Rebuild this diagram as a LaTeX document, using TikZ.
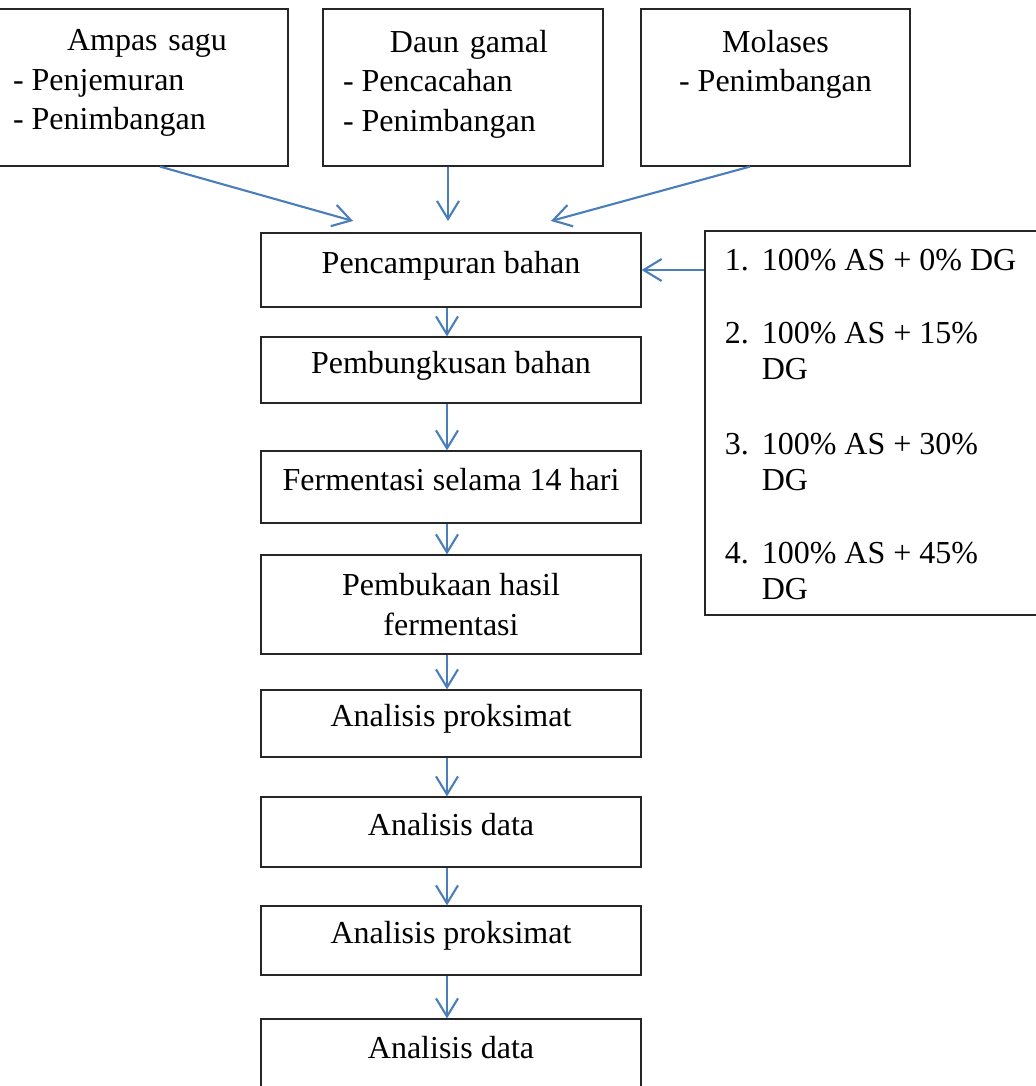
\documentclass[tikz,border=0pt]{standalone}
\usepackage{fontspec}
\setmainfont{Liberation Serif}
\usetikzlibrary{arrows.meta}

\definecolor{panahbiru}{RGB}{74,126,187}
\tikzset{
  bahanbox/.style={draw=black!85, line width=0.6pt, rectangle, minimum height=78.5pt, inner sep=0pt},
  bahanteks/.style={anchor=north, inner sep=0pt, font=\fontsize{16}{19.75}\selectfont},
  prosesbox/.style={draw=black!85, line width=0.6pt, rectangle, minimum width=190pt, inner sep=0pt, font=\fontsize{16}{20}\selectfont},
  prosessatu/.style={prosesbox, text height=9pt, text depth=6pt},
  panah/.style={-{Straight Barb[length=9pt, width=11pt]}, line width=1.05pt, panahbiru}
}

\begin{document}
\begin{tikzpicture}[x=0.5pt, y=-0.5pt]
    \useasboundingbox (0,0) rectangle (1035,1086);

    % Bahan awal
    \node[bahanbox, minimum width=149pt] (sagu) at (139,87.5) {};
    \node[bahanbox, minimum width=140pt] (gamal) at (463,87.5) {};
    \node[bahanbox, minimum width=134.5pt] (molases) at (775.5,87.5) {};
    \node[bahanteks, text width=134pt] at ([xshift=4pt, yshift=-10.5pt]sagu.north) {\centering Ampas sagu\par\raggedright -\hspace{0.25em}Penjemuran\par -\hspace{0.25em}Penimbangan\par};
    \node[bahanteks, text width=126pt] at ([xshift=3pt, yshift=-10.5pt]gamal.north) {\centering Daun gamal\par\raggedright -\hspace{0.25em}Pencacahan\par -\hspace{0.25em}Penimbangan\par};
    \node[bahanteks, text width=126pt] at ([yshift=-10.5pt]molases.north) {\centering Molases\par -\hspace{0.25em}Penimbangan\par};

    % Perlakuan
    \node[bahanbox, minimum width=170pt, minimum height=192pt] (daftar) at (875,423) {};
    \node[anchor=north west, inner sep=0pt, font=\fontsize{16}{18}\selectfont] at ([xshift=10pt, yshift=-7pt]daftar.north west) {%
      \begin{tabular}{@{}l@{\hspace{6.5pt}}l@{}}
        1. & 100\% AS + 0\% DG\\[18.5pt]
        2. & 100\% AS + 15\%\\
           & DG\\[19.5pt]
        3. & 100\% AS + 30\%\\
           & DG\\[18.5pt]
        4. & 100\% AS + 45\%\\
           & DG
      \end{tabular}};

    % Tahapan proses
    \node[prosessatu, minimum height=37pt] (campur) at (451,270) {Pencampuran bahan};
    \node[prosessatu, minimum height=33pt] (bungkus) at (451,370) {Pembungkusan bahan};
    \node[prosessatu, minimum height=36pt] (fermen) at (451,487) {Fermentasi selama 14 hari};
    \node[prosesbox, minimum height=49.5pt, align=center] (buka) at (451,604.5) {Pembukaan hasil\\fermentasi};
    \node[prosessatu, minimum height=33.5pt] (proksimatsatu) at (451,723.5) {Analisis proksimat};
    \node[prosessatu, minimum height=35pt] (datasatu) at (451,832) {Analisis data};
    \node[prosessatu, minimum height=34.5pt] (proksimatdua) at (451,940.5) {Analisis proksimat};
    \node[prosessatu, minimum height=36pt] (datadua) at (451,1055) {Analisis data};

    % Ujung panah masuk
    \coordinate (masukkiri) at (353,221);
    \coordinate (masuktengah) at (448,221);
    \coordinate (masukkanan) at (551,221);

    % Panah bahan
    \draw[panah] ([xshift=10.5pt]sagu.south) -- (masukkiri);
    \draw[panah] ([xshift=-7.5pt]gamal.south) -- (masuktengah);
    \draw[panah] ([xshift=-12.75pt]molases.south) -- (masukkanan);
    \draw[panah] (daftar.west |- campur.east) -- (campur.east);

    % Panah proses
    \draw[panah] ([xshift=-2pt]campur.south) -- ([xshift=-2pt]bungkus.north);
    \draw[panah] ([xshift=-2pt]bungkus.south) -- ([xshift=-2pt]fermen.north);
    \draw[panah] ([xshift=-2pt]fermen.south) -- ([xshift=-2pt]buka.north);
    \draw[panah] ([xshift=-2pt]buka.south) -- ([xshift=-2pt]proksimatsatu.north);
    \draw[panah] ([xshift=-2pt]proksimatsatu.south) -- ([xshift=-2pt]datasatu.north);
    \draw[panah] ([xshift=-2pt]datasatu.south) -- ([xshift=-2pt]proksimatdua.north);
    \draw[panah] ([xshift=-2pt]proksimatdua.south) -- ([xshift=-2pt]datadua.north);
\end{tikzpicture}
\end{document}
